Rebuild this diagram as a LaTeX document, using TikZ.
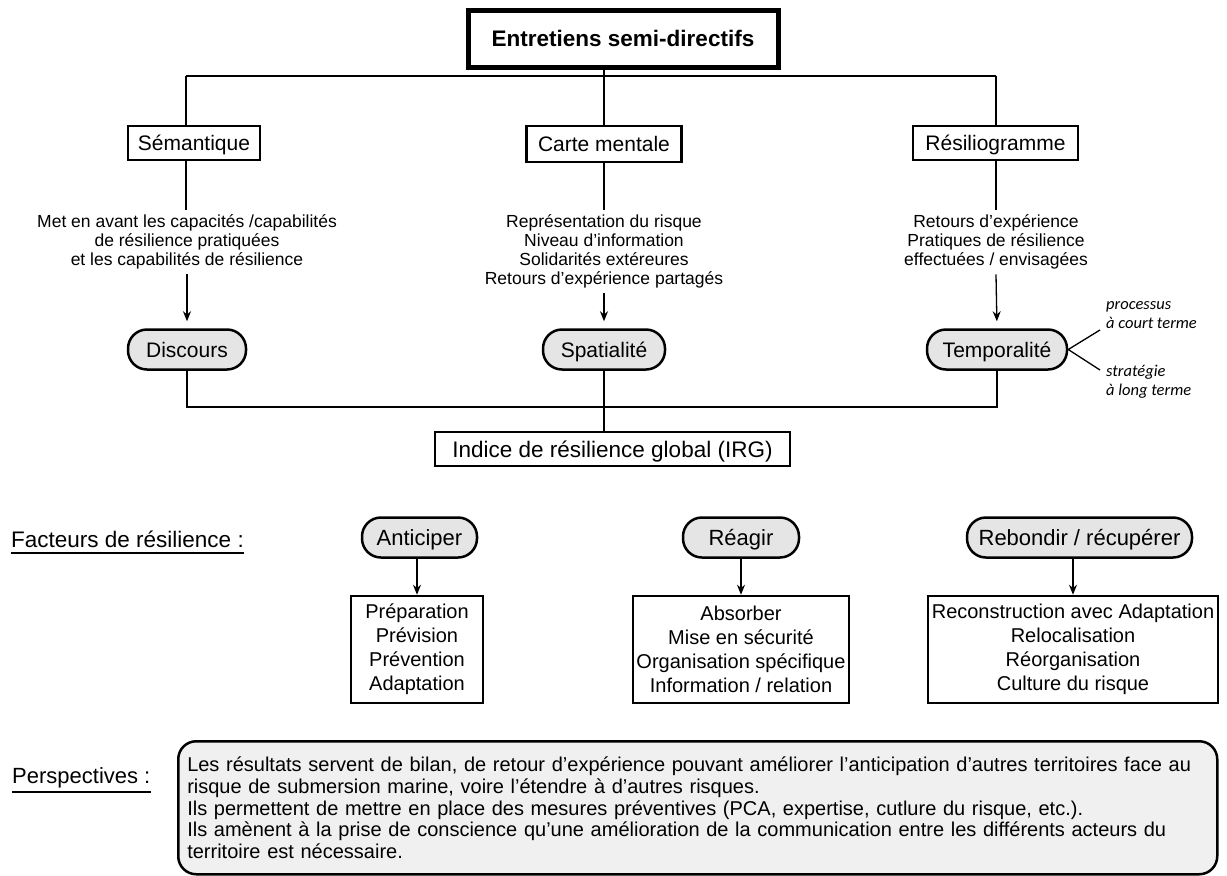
\documentclass[tikz,border=0pt]{standalone}
\usepackage{fontspec}
\setmainfont{Liberation Sans}
\newfontfamily\itf{Carlito}
\usetikzlibrary{arrows.meta}
\definecolor{pillgray}{RGB}{229,229,229}
\definecolor{boxgray}{RGB}{240,240,240}
\begin{document}
\begin{tikzpicture}[x=1pt,y=-1pt,
  conn/.style={line width=1.3pt},
  arr/.style={line width=1.3pt,-{Stealth[length=10pt,width=8pt]}},
  titlebox/.style={draw,line width=5pt,inner sep=0pt,text height=17pt,text depth=1pt,font=\fontsize{22.5}{27}\selectfont\bfseries},
  topbox/.style={draw,line width=2.5pt,inner sep=0pt,minimum height=34pt,text height=16pt,text depth=1pt,font=\fontsize{21}{25}\selectfont},
  lbl/.style={align=center,inner sep=5pt,font=\fontsize{17.5}{19}\selectfont},
  pill/.style={draw,line width=2.5pt,fill=pillgray,rounded corners=19pt,inner sep=0pt,minimum height=40pt,text height=16pt,text depth=1pt,font=\fontsize{21}{25}\selectfont},
  pillb/.style={pill,text height=16.5pt,text depth=0.5pt,font=\fontsize{22}{26}\selectfont},
  listbox/.style={draw,line width=2.5pt,inner sep=0pt,align=center,minimum height=107pt,font=\fontsize{20}{24}\selectfont},
  side/.style={anchor=west,align=left,inner sep=0pt,font=\fontsize{16.5}{19}\selectfont\itf\itshape},
  heading/.style={anchor=base west,inner sep=0pt,font=\fontsize{22.5}{26}\selectfont},
  uline/.style={line width=2pt}
]
\useasboundingbox (0,0) rectangle (1227,876);

% top level
\node[titlebox,minimum width=310pt,minimum height=57pt] (title) at (623,38.5) {Entretiens semi-directifs};
\node[topbox,minimum width=132pt] (sem) at (194,143) {Sémantique};
\node[topbox,minimum width=155pt,minimum height=36pt] (carte) at (604,144) {Carte mentale};
\node[topbox,minimum width=165pt] (resil) at (995.5,143) {Résiliogramme};

\coordinate (tL) at (186,76);
\coordinate (tR) at (996,76);
\draw[conn] (tL) -- (tR);
\draw[conn] (tL) -- (sem.north -| tL);
\draw[conn] (tR) -- (resil.north -| tR);
\draw[conn] (carte.north) -- (carte.north |- title.south);

% descriptions
\node[lbl] (semtxt) at (187,242) {Met en avant les capacités /capabilités\\de résilience pratiquées\\et les capabilités de résilience};
\node[lbl] (cartetxt) at (604,251.5) {Représentation du risque\\Niveau d’information\\Solidarités extéreures\\Retours d’expérience partagés};
\node[lbl] (resiltxt) at (996,242) {Retours d’expérience\\Pratiques de résilience\\effectuées / envisagées};

\draw[conn] (sem.south -| tL) -- (semtxt.north -| tL);
\draw[conn] (carte.south) -- (carte.south |- cartetxt.north);
\draw[conn] (resil.south -| tR) -- (resiltxt.north -| tR);

% pills
\node[pill,minimum width=118pt] (disc) at (187,349.5) {Discours};
\node[pill,minimum width=122pt] (spat) at (604,349.5) {Spatialité};
\node[pill,minimum width=140pt] (temp) at (997,349.5) {Temporalité};

\draw[arr,shorten >=7pt] (semtxt.south) -- (disc.north);
\draw[arr,shorten >=7pt] (cartetxt.south) -- (spat.north);
\draw[arr,shorten >=7pt] (resiltxt.south) -- (temp.north);

% side notes
\coordinate (sUp) at (1100,330);
\coordinate (sDn) at (1100,370);
\draw[conn] (sUp) -- (temp.east) -- (sDn);
\node[side] (proc) at (1106,315) {processus\\à court terme};
\node[side] (strat) at (1106,382) {stratégie\\à long terme};

% IRG
\node[topbox,minimum width=355pt,text height=17pt,text depth=1pt,font=\fontsize{22.5}{26}\selectfont] (irg) at (612.5,449) {Indice de résilience global (IRG)};
\coordinate (bL) at (187,407);
\coordinate (bR) at (997,407);
\draw[conn] (disc.south) -- (bL) -- (bR) -- (temp.south);
\draw[conn] (spat.south) -- (spat.south |- irg.north);

% facteurs
\node[heading] (fact) at (11,547) {Facteurs de résilience :};
\draw[uline] ([yshift=-5.5pt]fact.base west) -- ([yshift=-5.5pt]fact.base east);

\node[pillb,minimum width=115pt] (ant) at (419.5,537.5) {Anticiper};
\node[pillb,minimum width=116pt] (rea) at (741,537.5) {Réagir};
\node[pillb,minimum width=225pt] (reb) at (1079.5,537.5) {Rebondir / récupérer};

\node[listbox,minimum width=132pt] (antbox) at (417,649.5) {Préparation\\Prévision\\Prévention\\Adaptation};
\node[listbox,minimum width=216pt] (reabox) at (741,649.5) {Absorber\\Mise en sécurité\\Organisation spécifique\\Information / relation};
\node[listbox,minimum width=290pt] (rebbox) at (1073,649.5) {Reconstruction avec Adaptation\\Relocalisation\\Réorganisation\\Culture du risque};

\draw[arr] (antbox.north |- ant.south) -- (antbox.north);
\draw[arr] (reabox.north |- rea.south) -- (reabox.north);
\draw[arr] (rebbox.north |- reb.south) -- (rebbox.north);

% perspectives
\node[heading,font=\fontsize{22}{26}\selectfont] (persp) at (12,783) {Perspectives :};
\draw[uline] ([yshift=-8.5pt]persp.base west) -- ([yshift=-8.5pt]persp.base east);

\node[draw,line width=2.5pt,fill=boxgray,rounded corners=18pt,anchor=north west,
  text width=1021pt,minimum height=133pt,inner xsep=9pt,inner ysep=10pt,align=left,
  font=\fontsize{20}{21.8}\selectfont] (pbox) at (177,740)
{Les résultats servent de bilan, de retour d’expérience pouvant améliorer l’anticipation d’autres territoires face au\\
risque de submersion marine, voire l’étendre à d’autres risques.\\
Ils permettent de mettre en place des mesures préventives (PCA, expertise, cutlure du risque, etc.).\\
Ils amènent à la prise de conscience qu’une amélioration de la communication entre les différents acteurs du\\
territoire est nécessaire.};
\end{tikzpicture}
\end{document}
